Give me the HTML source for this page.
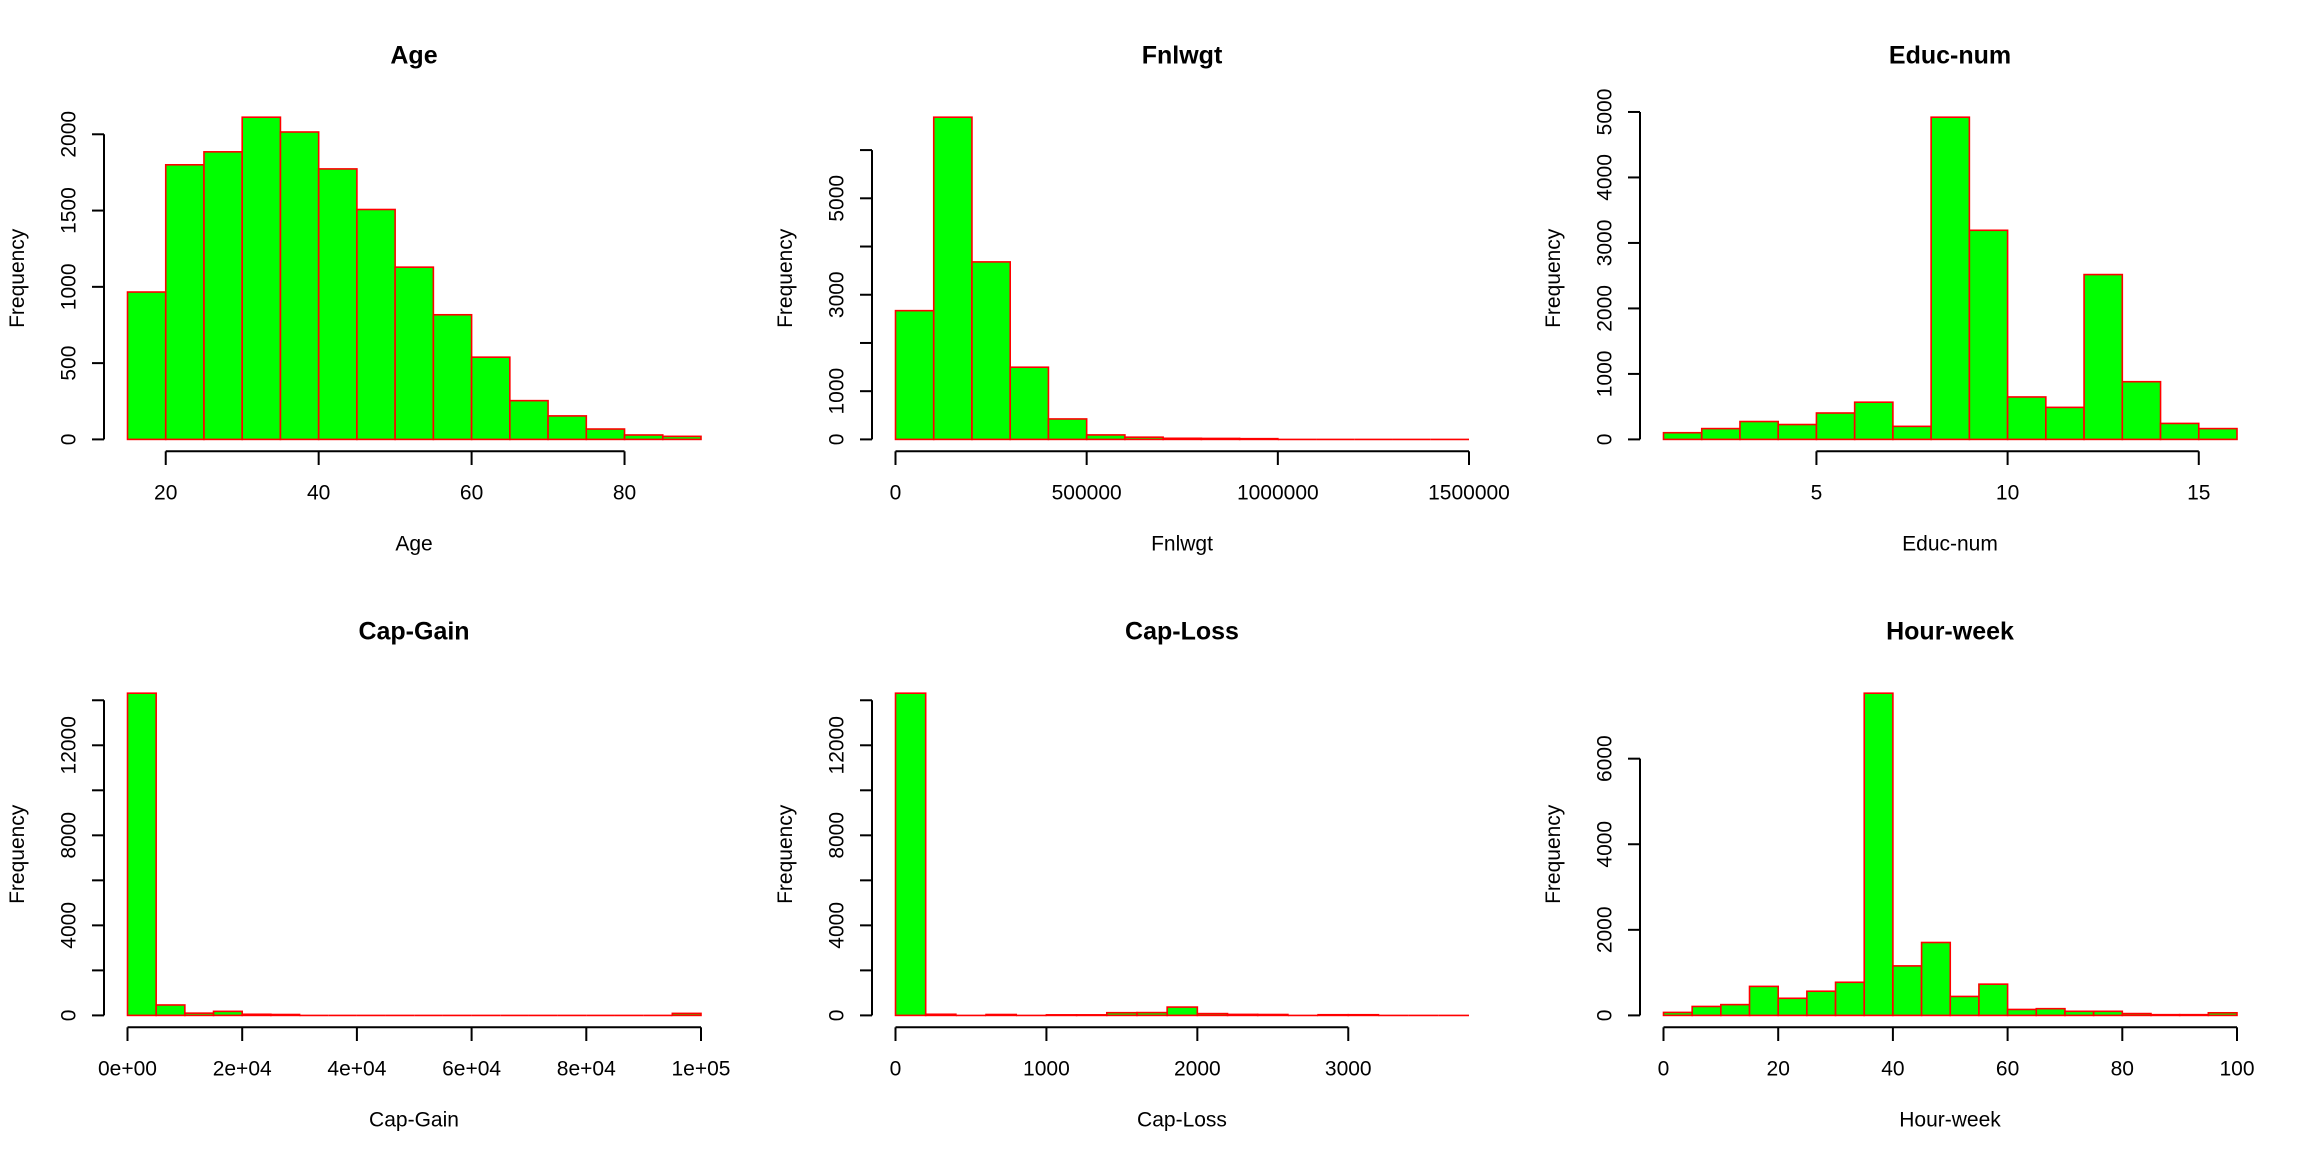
<!DOCTYPE html>
<html><head><meta charset="utf-8"><style>
html,body{margin:0;padding:0;background:#fff;overflow:hidden;}
svg{display:block;}
text{font-family:"Liberation Sans",Arial,sans-serif;fill:#000;}
</style></head><body>
<svg id="fig" width="2304" height="1152" viewBox="0 0 2304 1152" xmlns="http://www.w3.org/2000/svg"></svg>
<script>
// ---- data (bin edges, counts, ticks) ----
const ageEdges = [15,20,25,30,35,40,45,50,55,60,65,70,75,80,85,90];
const ageCounts = [966,1800,1885,2112,2015,1773,1507,1129,817,539,254,154,68,29,20];
const ageYTicks = [0,500,1000,1500,2000];
const ageYLabels = ["0","500","1000","1500","2000"];
const ageXTicks = [20,40,60,80];
const ageXLabels = ["20","40","60","80"];

const fnlEdges = [0,100000,200000,300000,400000,500000,600000,700000,800000,900000,1000000,1100000,1200000,1300000,1400000,1500000];
const fnlCounts = [2670,6682,3681,1497,424,93,46,23,20,15,2,1,1,0,1];
const fnlYTicks = [0,1000,2000,3000,4000,5000,6000];
const fnlYLabels = ["0","1000","","3000","","5000",""];
const fnlXTicks = [0,500000,1000000,1500000];
const fnlXLabels = ["0","500000","1000000","1500000"];

const eduEdges = [1,2,3,4,5,6,7,8,9,10,11,12,13,14,15,16];
const eduCounts = [102,165,273,227,403,568,199,4920,3193,648,489,2517,881,244,165];
const eduYTicks = [0,1000,2000,3000,4000,5000];
const eduYLabels = ["0","1000","2000","3000","4000","5000"];
const eduXTicks = [5,10,15];
const eduXLabels = ["5","10","15"];

const cgEdges = [0,5000,10000,15000,20000,25000,30000,35000,40000,45000,50000,55000,60000,65000,70000,75000,80000,85000,90000,95000,100000];
const cgCounts = [14314,463,100,180,50,40,5,3,3,2,2,2,2,2,2,2,2,2,2,90];
const cgYTicks = [0,2000,4000,6000,8000,10000,12000,14000];
const cgYLabels = ["0","","4000","","8000","","12000",""];
const cgXTicks = [0,20000,40000,60000,80000,100000];
const cgXLabels = ["0e+00","2e+04","4e+04","6e+04","8e+04","1e+05"];

const clEdges = [0,200,400,600,800,1000,1200,1400,1600,1800,2000,2200,2400,2600,2800,3000,3200,3400,3600,3800];
const clCounts = [14314,50,5,40,5,25,25,120,125,370,80,45,40,5,30,30,3,2,3];
const clYTicks = [0,2000,4000,6000,8000,10000,12000,14000];
const clYLabels = ["0","","4000","","8000","","12000",""];
const clXTicks = [0,1000,2000,3000];
const clXLabels = ["0","1000","2000","3000"];

const hwEdges = [0,5,10,15,20,25,30,35,40,45,50,55,60,65,70,75,80,85,90,95,100];
const hwCounts = [70,209,252,678,400,565,774,7530,1157,1704,443,730,139,157,96,96,43,17,17,61];
const hwYTicks = [0,2000,4000,6000];
const hwYLabels = ["0","2000","4000","6000"];
const hwXTicks = [0,20,40,60,80,100];
const hwXLabels = ["0","20","40","60","80","100"];

const NS = "http://www.w3.org/2000/svg";
const svg = document.getElementById('fig');
function mk(tag, attrs, parent){
  const e = document.createElementNS(NS, tag);
  for (const k in attrs) e.setAttribute(k, attrs[k]);
  parent.appendChild(e);
  return e;
}

function panel(ox, oy, title, slug, edges, counts, yTicks, yLabels, xTicks, xLabels){
  const g = mk('g', {transform:`translate(${ox},${oy})`}, svg);
  
  
  const x0 = edges[0], x1 = edges[edges.length-1];
  const ymax = Math.max(...counts);
  const X = v => 127.5 + (v - x0) / (x1 - x0) * 573.5;
  const Y = c => 439.4 - c / ymax * 322.2;

  const t = mk('text', {x:414, y:63.3, 'font-size':25, 'font-weight':'bold', 'text-anchor':'middle'}, g);
  t.textContent = title;
  
  

  const bars = mk('g', {}, g);
  
  
  for (let i = 0; i < counts.length; i++){
    const xa = X(edges[i]), xb = X(edges[i+1]), yt = Y(counts[i]);
    const h = 439.4 - yt;
    if (h < 0.5) {
      const l = mk('line', {x1:xa, x2:xb, y1:439.4, y2:439.4, stroke:'#ff0000', 'stroke-width':1.6}, bars);
      
      
    } else {
      const r = mk('rect', {x:xa, y:yt, width:xb-xa, height:h,
        fill:'#00ff00', stroke:'#ff0000', 'stroke-width':1.6}, bars);
      
      
    }
  }

  // y axis
  const ya = mk('g', {}, g);
  
  
  mk('line', {x1:104, x2:104, y1:Y(yTicks[0]), y2:Y(yTicks[yTicks.length-1]), stroke:'#000', 'stroke-width':2}, ya);
  yTicks.forEach((v, i) => {
    mk('line', {x1:92, x2:104, y1:Y(v), y2:Y(v), stroke:'#000', 'stroke-width':2}, ya);
    if (yLabels[i]) {
      const tl = mk('text', {x:0, y:0, 'font-size':21, 'text-anchor':'middle',
        transform:`translate(75.4,${Y(v)}) rotate(-90)`}, ya);
      tl.textContent = yLabels[i];
      
      
    }
  });
  const yl = mk('text', {x:0, y:0, 'font-size':21, 'text-anchor':'middle',
    transform:'translate(23.8,278.3) rotate(-90)'}, g);
  yl.textContent = 'Frequency';
  
  

  // x axis
  const xa = mk('g', {}, g);
  
  
  mk('line', {x1:X(xTicks[0]), x2:X(xTicks[xTicks.length-1]), y1:451.3, y2:451.3, stroke:'#000', 'stroke-width':2}, xa);
  xTicks.forEach((v, i) => {
    mk('line', {x1:X(v), x2:X(v), y1:451.3, y2:465, stroke:'#000', 'stroke-width':2}, xa);
    const tl = mk('text', {x:X(v), y:499.4, 'font-size':21, 'text-anchor':'middle'}, xa);
    tl.textContent = xLabels[i];
    
    
  });
  const xl = mk('text', {x:414, y:550.7, 'font-size':21, 'text-anchor':'middle'}, g);
  xl.textContent = title;
  
  
}

panel(0, 0, 'Age', 'age', ageEdges, ageCounts, ageYTicks, ageYLabels, ageXTicks, ageXLabels);
panel(768, 0, 'Fnlwgt', 'fnlwgt', fnlEdges, fnlCounts, fnlYTicks, fnlYLabels, fnlXTicks, fnlXLabels);
panel(1536, 0, 'Educ-num', 'educ-num', eduEdges, eduCounts, eduYTicks, eduYLabels, eduXTicks, eduXLabels);
panel(0, 576, 'Cap-Gain', 'cap-gain', cgEdges, cgCounts, cgYTicks, cgYLabels, cgXTicks, cgXLabels);
panel(768, 576, 'Cap-Loss', 'cap-loss', clEdges, clCounts, clYTicks, clYLabels, clXTicks, clXLabels);
panel(1536, 576, 'Hour-week', 'hour-week', hwEdges, hwCounts, hwYTicks, hwYLabels, hwXTicks, hwXLabels);
</script>
</body></html>
